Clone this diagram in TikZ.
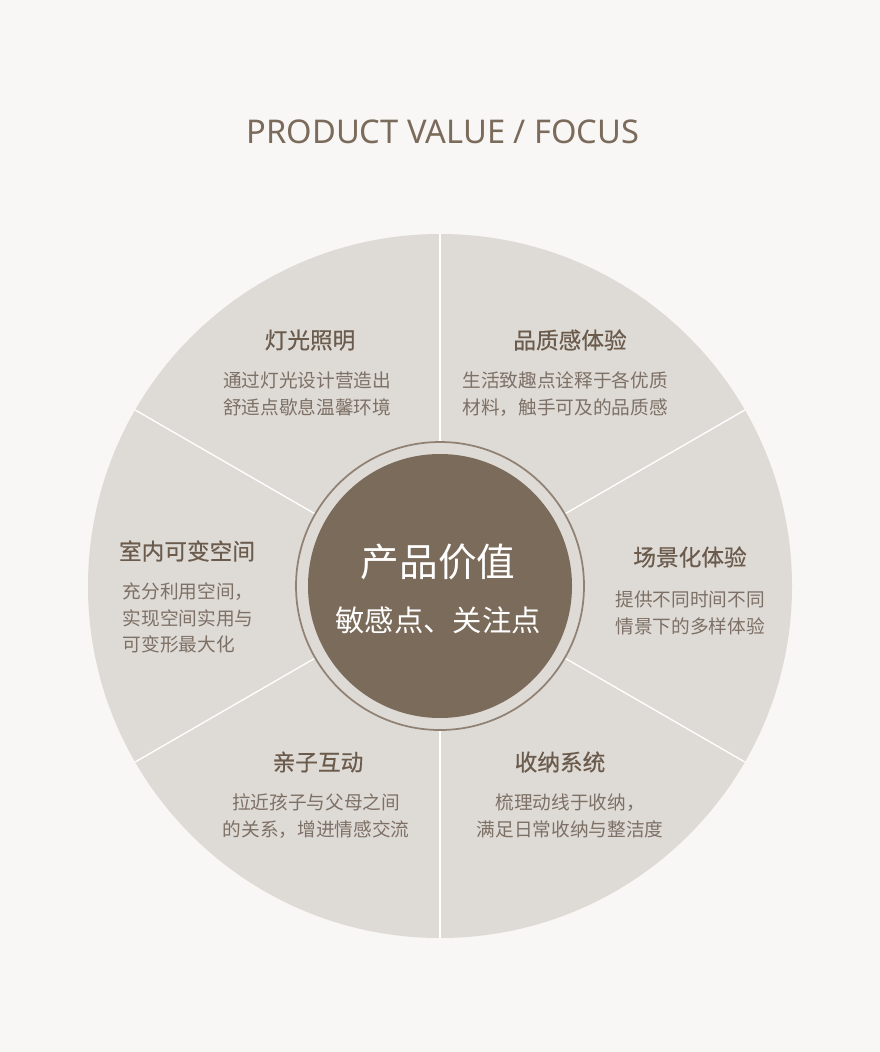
\documentclass[tikz,border=0pt]{standalone}
\usepackage{fontspec}
\usetikzlibrary{calc}
\setmainfont{Noto Sans CJK SC}
\newfontfamily\titlefont{Noto Sans}
\newfontfamily\hdfont[FakeBold=0.5]{Noto Sans CJK SC}
\definecolor{bgc}{HTML}{F8F7F6}
\definecolor{disc}{HTML}{DEDAD5}
\definecolor{dark}{HTML}{7B6B5B}
\definecolor{head}{HTML}{6B5B4D}
\definecolor{body}{HTML}{7D7066}
\begin{document}
\begin{tikzpicture}[x=0.75pt,y=-0.75pt,
  hd/.style={text=head,font=\hdfont\fontsize{17}{20}\selectfont},
  bd/.style={text=body,font=\fontsize{14}{20}\selectfont,align=center}]
\fill[bgc] (0,0) rectangle (880,1052);
\useasboundingbox (0,0) rectangle (880,1052);
\coordinate (c) at (440,586);
\node[text=dark,font=\titlefont\fontsize{24.5}{28}\selectfont] (title) at (443,132) {PRODUCT VALUE / FOCUS};
\fill[disc] (c) circle[radius=352];
\foreach \a in {90,30,-30,150,210,270}
  \draw[white,line width=1pt] ($(c)+(\a:144)$) -- ($(c)+(\a:352)$);
\draw[dark!85,line width=1.3pt] (c) circle[radius=144];
\fill[dark] (c) circle[radius=132];
\node[text=white,font=\fontsize{29}{32}\selectfont] (m1) at (438,562) {产品价值};
\node[text=white,font=\fontsize{22}{26}\selectfont] (m2) at (438,620) {敏感点、关注点};
\node[hd] (h1) at (310,340) {灯光照明};
\node[bd] (b1) at (307,394) {通过灯光设计营造出\\舒适点歇息温馨环境};
\node[hd] (h2) at (570,340) {品质感体验};
\node[bd] (b2) at (565,394) {生活致趣点诠释于各优质\\材料，触手可及的品质感};
\node[hd] (h3) at (187,551) {室内可变空间};
\node[bd,align=left,anchor=north west] (b3) at (118,578) {充分利用空间，\\实现空间实用与\\可变形最大化};
\node[hd] (h4) at (690,557) {场景化体验};
\node[bd] (b4) at (690,613) {提供不同时间不同\\情景下的多样体验};
\node[hd] (h5) at (318,762) {亲子互动};
\node[bd] (b5) at (316,816) {拉近孩子与父母之间\\的关系，增进情感交流};
\node[hd] (h6) at (560,762) {收纳系统};
\node[bd] (b6) at (570,816) {梳理动线于收纳，\\满足日常收纳与整洁度};
\end{tikzpicture}
\end{document}
